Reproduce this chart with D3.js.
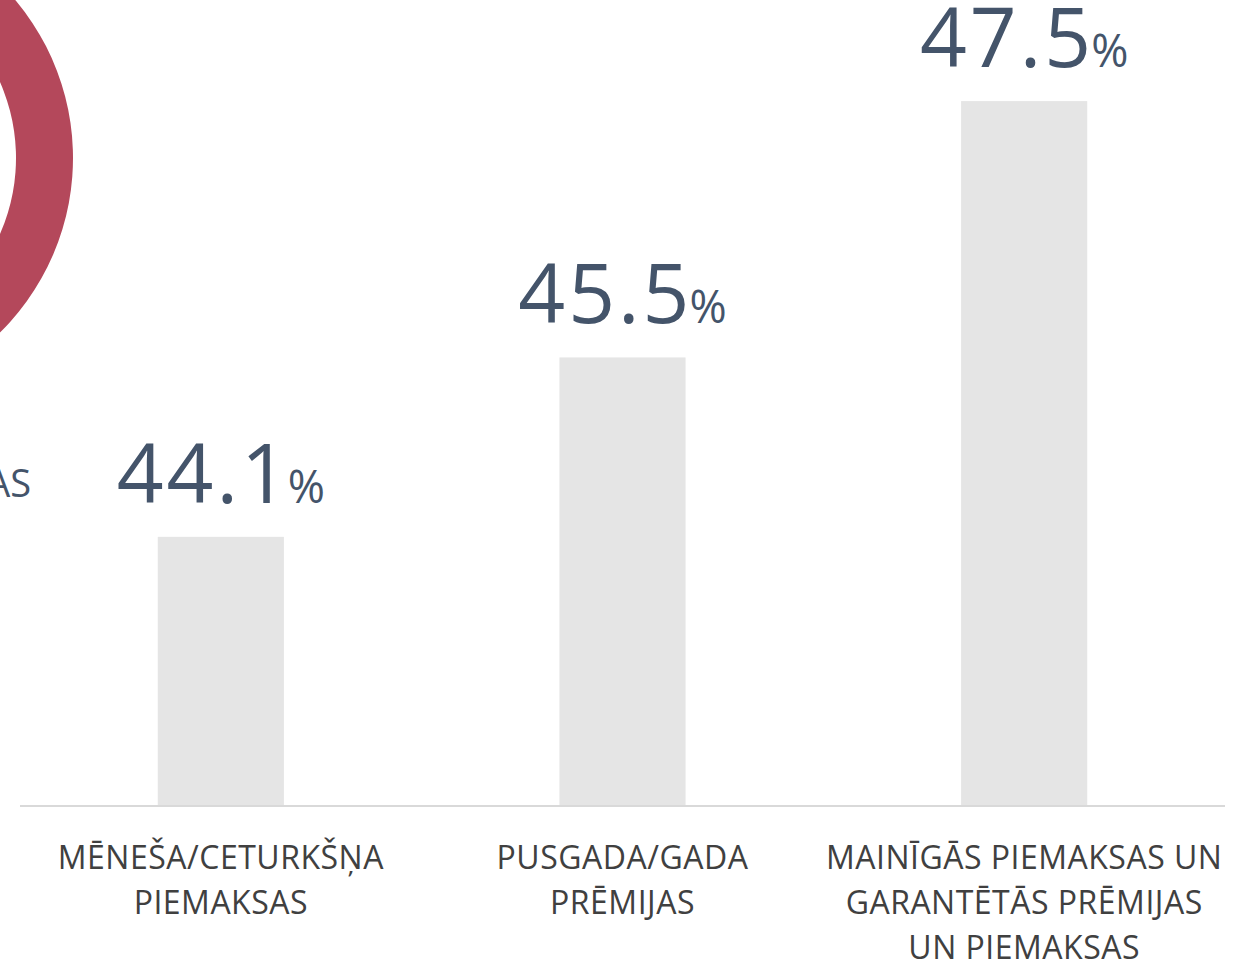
<html lang="en">
<head>
  <meta charset="UTF-8"/>
  <script src="https://d3js.org/d3.v7.min.js"></script>
  <style>
body {
  margin: 0;
  font-family: 'Open Sans', sans-serif;
  background: white;
}

div#container {
  width: 1253px;
  height: 961px;
  overflow: hidden;
}

svg {
  width: 100%;
  height: 100%;
}

rect.bar {
  fill: #e5e5e5;
}

line.baseline {
  stroke: #d9d9d9;
  stroke-width: 2;
}

text.value {
  fill: #44546a;
}

text.cat {
  font-size: 32px;
  letter-spacing: 0.5px;
  fill: #404040;
}

text.side {
  font-size: 38px;
  fill: #44546a;
}
</style>
</head>
<body>
  <div id='container'>
    <svg></svg>
  </div>

<script>
  // data
  const categories = ['MĒNEŠA/CETURKŠŅA PIEMAKSAS', 'PUSGADA/GADA PRĒMIJAS', 'MAINĪGĀS PIEMAKSAS UN GARANTĒTĀS PRĒMIJAS UN PIEMAKSAS']
  const catLines = [
    ['MĒNEŠA/CETURKŠŅA', 'PIEMAKSAS'],
    ['PUSGADA/GADA', 'PRĒMIJAS'],
    ['MAINĪGĀS PIEMAKSAS UN', 'GARANTĒTĀS PRĒMIJAS', 'UN PIEMAKSAS']
  ]
  const values = [44.1, 45.5, 47.5]
  const yDomain = [42, 48]

  // neighbouring donut, only its edge shows
  const donutValues = [55.9, 44.1]
  const donutColors = ['#b4485b', '#e5e5e5']
  const sideLabel = 'AS'

  const svg = d3.select('svg')

  const x = d3.scaleBand()
    .domain(categories)
    .range([20, 1225])
    .paddingInner(0.686)
    .paddingOuter(0.343)

  const y = d3.scaleLinear()
    .domain(yDomain)
    .range([806, 37])

  // donut
  const pie = d3.pie().sort(null).value(d => d)
  const arc = d3.arc().innerRadius(188).outerRadius(245)

  svg.append('g')
    .attr('transform', 'translate(-172,158)')
    .selectAll('path')
    .data(pie(donutValues))
    .join('path')
      .attr('d', arc)
      .attr('fill', (d, i) => donutColors[i])

  svg.append('text')
    .attr('class', 'side')
    .attr('text-anchor', 'end')
    .attr('x', 31)
    .attr('y', 497)
    .text(sideLabel)

  // bars
  svg.selectAll('rect.bar')
    .data(values)
    .join('rect')
      .attr('class', 'bar')
      .attr('x', (d, i) => x(categories[i]))
      .attr('width', x.bandwidth())
      .attr('y', d => y(d))
      .attr('height', d => y(yDomain[0]) - y(d))

  svg.append('line')
    .attr('class', 'baseline')
    .attr('x1', x.range()[0])
    .attr('x2', x.range()[1])
    .attr('y1', y(yDomain[0]))
    .attr('y2', y(yDomain[0]))

  // value labels
  const vals = svg.selectAll('text.value')
    .data(values)
    .join('text')
      .attr('class', 'value')
      .attr('text-anchor', 'middle')
      .attr('x', (d, i) => x(categories[i]) + x.bandwidth() / 2)
      .attr('y', d => y(d) - 34)

  vals.append('tspan')
    .style('font-size', '82px')
    .style('letter-spacing', '3px')
    .text(d => d.toFixed(1))
  vals.append('tspan')
    .style('font-size', '45px')
    .attr('dx', -3)
    .text('%')

  // category labels
  const cats = svg.selectAll('text.cat')
    .data(catLines)
    .join('text')
      .attr('class', 'cat')
      .attr('text-anchor', 'middle')

  cats.selectAll('tspan')
    .data((d, i) => d.map(t => ({ t: t, i: i })))
    .join('tspan')
      .attr('x', d => x(categories[d.i]) + x.bandwidth() / 2)
      .attr('y', (d, j) => 869 + j * 45)
      .text(d => d.t)
</script>
</body>
</html>
